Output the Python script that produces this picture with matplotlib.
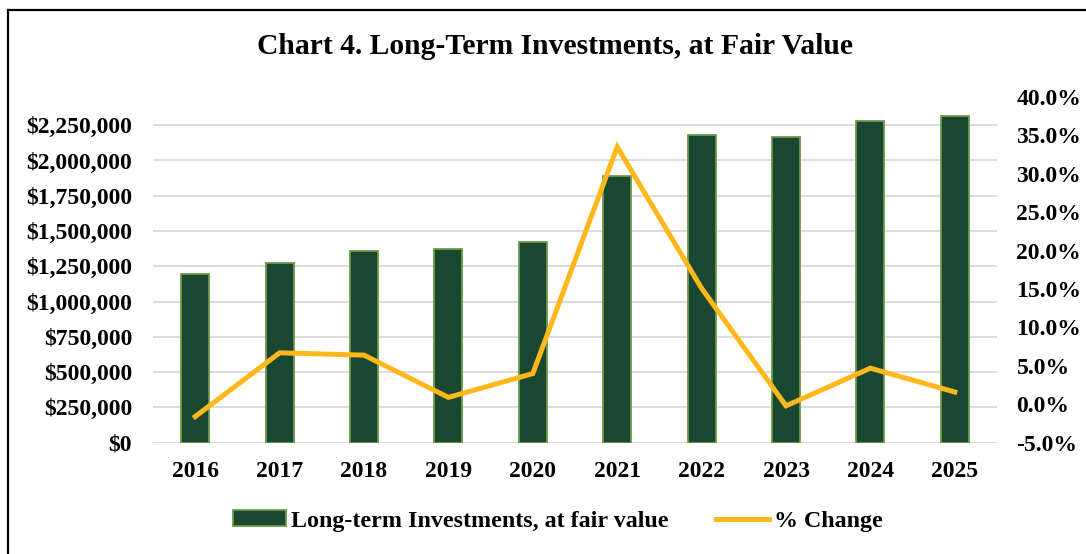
import numpy as np
import matplotlib.pyplot as plt
from matplotlib.lines import Line2D
from matplotlib.ticker import FuncFormatter

plt.rcParams['font.family'] = ['Liberation Serif', 'DejaVu Serif']
plt.rcParams['font.weight'] = 'bold'

years = ['2016', '2017', '2018', '2019', '2020', '2021', '2022', '2023', '2024', '2025']
investments = [1199000, 1277000, 1360000, 1372000, 1424000, 1891000, 2181000, 2169000, 2278000, 2314000]
pct_change = [-1.6, 6.7, 6.4, 0.9, 4.0, 33.5, 15.1, -0.2, 4.7, 1.6]

left_ticks = [0, 250000, 500000, 750000, 1000000, 1250000, 1500000, 1750000, 2000000, 2250000]
right_ticks = [-5, 0, 5, 10, 15, 20, 25, 30, 35, 40]

bar_color = '#1A4732'
edge_color = '#6B9B48'
line_color = '#FFB81C'
grid_color = '#D9D9D9'

fig = plt.figure(figsize=(10.86, 5.54), dpi=100)
ax = fig.add_axes([153 / 1086, 1 - 442.7 / 554, 844 / 1086, 345.7 / 554])
ax2 = ax.twinx()

x = np.arange(len(years))

# barras (eixo esquerdo)
ax.bar(x, investments, width=0.33, color=bar_color, edgecolor=edge_color, linewidth=1.3, zorder=3,
       label='Long-term Investments, at fair value')
ax.set_ylim(0, 2450000)
ax.set_xlim(-0.5, len(years) - 0.5)
ax.set_yticks(left_ticks)
ax.yaxis.set_major_formatter(FuncFormatter(lambda v, p: '${:,.0f}'.format(v)))
ax.set_xticks(x)
ax.set_xticklabels(years)
ax.grid(axis='y', color=grid_color, linewidth=1.3, zorder=0)
ax.set_axisbelow(True)
ax.tick_params(axis='both', length=0, labelsize=17)
ax.tick_params(axis='y', pad=15)
ax.tick_params(axis='x', pad=13)

# linha (eixo direito)
ax2.plot(x, pct_change, color=line_color, linewidth=3.6, solid_joinstyle='miter', zorder=4, label='% Change')
ax2.set_ylim(-5, 40)
ax2.set_yticks(right_ticks)
ax2.yaxis.set_major_formatter(FuncFormatter(lambda v, p: '{:.1f}%'.format(v)))
ax2.tick_params(axis='y', length=0, labelsize=17, pad=14)

for a in (ax, ax2):
    for s in a.spines.values():
        s.set_visible(False)

fig.text(555 / 1086, 1 - 47 / 554, 'Chart 4. Long-Term Investments, at Fair Value',
         ha='center', va='center', fontsize=21.3, fontweight='bold')

handles = [ax.patches[0], ax2.lines[0]]
labels = ['Long-term Investments, at fair value', '% Change']
fig.legend(handles, labels, loc='center', bbox_to_anchor=(558 / 1086, 1 - 521 / 554),
           ncol=2, frameon=False, fontsize=17.3, handlelength=2.2, handleheight=0.6,
           handletextpad=0.2, columnspacing=2.0)

# moldura (apenas topo e esquerda visíveis)
fig.add_artist(Line2D([8 / 1086, 1], [1 - 10 / 554, 1 - 10 / 554], color='black', linewidth=1.6,
                      transform=fig.transFigure))
fig.add_artist(Line2D([8 / 1086, 8 / 1086], [0, 1 - 10 / 554], color='black', linewidth=1.6,
                      transform=fig.transFigure))

fig.savefig('out.png', dpi=100)
